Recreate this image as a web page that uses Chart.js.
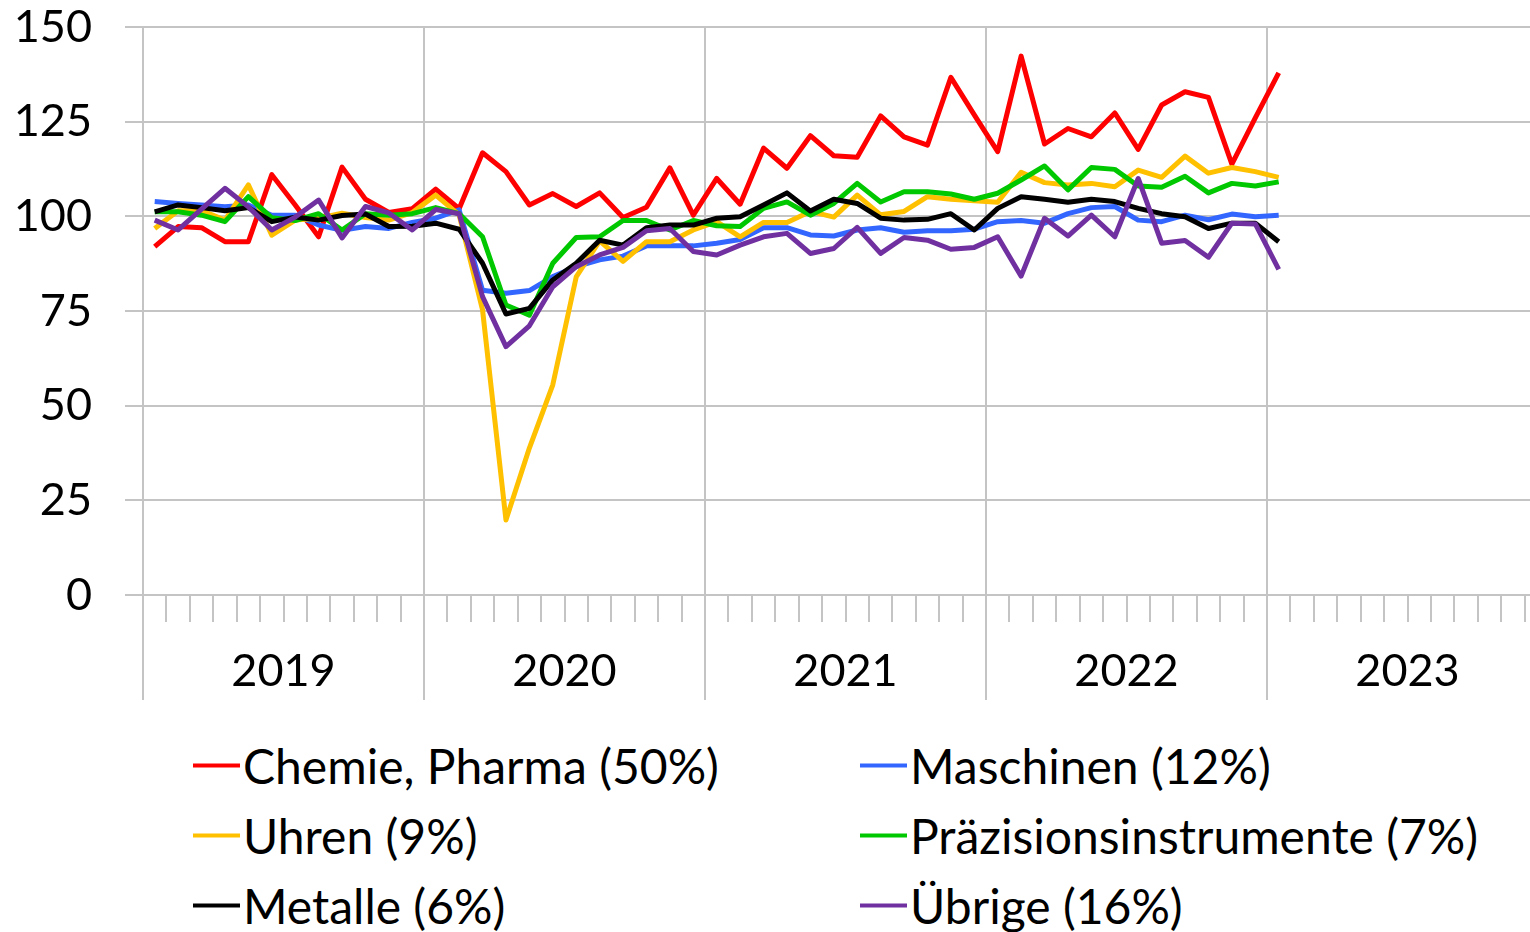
<!DOCTYPE html>
<html>
<head>
<meta charset="utf-8">
<script src="https://cdn.jsdelivr.net/npm/chart.js@4.4.0/dist/chart.umd.min.js"></script>
<style>
  html, body { margin: 0; padding: 0; background: #fff; }
  #wrap { position: relative; width: 1530px; height: 932px; overflow: hidden; }
  #box { position: absolute; left: 0; top: 0; width: 1548px; height: 720px; }
  .item { position: absolute; display: flex; align-items: center; transform: translateY(-50%);
          font-family: Lato, sans-serif; font-size: 48px; color: #000; white-space: nowrap; }
  .mark { display: inline-block; width: 47px; height: 4px; margin-right: 3px; }
</style>
</head>
<body>
<div id="wrap">
  <div id="box"><canvas id="chart"></canvas></div>
  <div id="legend"></div>
</div>
<script>
// Monthly index, Jan 2019 - Jan 2023
var years = ['2019', '2020', '2021', '2022', '2023']
var monthLabels = []
for (var y = 0; y < years.length; y++) {
  for (var m = 1; m <= 12; m++) monthLabels.push(years[y] + '-' + (m < 10 ? '0' + m : m))
}

var chemie = [92, 97.3, 97, 93.3, 93.3, 111, 103, 94.6, 113, 104.5, 101, 102,
  107.2, 102, 116.8, 111.8, 103, 106, 102.6, 106.2, 99.7, 102.4, 112.8, 100.3,
  110, 103.2, 118, 112.7, 121.3, 116, 115.6, 126.5, 121, 118.8, 136.7, 126.8,
  117.1, 142.3, 119.1, 123.2, 121, 127.3, 117.7, 129.4, 132.9, 131.4, 113.8, 126,
  137.9]
var maschinen = [103.9, 103.4, 103, 102.5, 103, 100.3, 100.3, 97.7, 96.3, 97.3, 96.8, 98.4,
  99.5, 101.7, 80.5, 79.7, 80.4, 84.1, 86.7, 88.5, 89.5, 92.2, 92.2, 92.2,
  92.9, 93.9, 97, 97, 95.1, 94.8, 96.4, 97, 95.8, 96.2, 96.2, 96.6,
  98.6, 98.9, 98.2, 100.7, 102.3, 102.6, 99, 98.6, 100.3, 99.1, 100.6, 99.9,
  100.3]
var uhren = [96.8, 101.5, 101.5, 99, 108.3, 95, 99, 99.5, 100.8, 99.7, 99, 101,
  105.6, 100.4, 75.3, 19.8, 38.8, 55.5, 84, 93.5, 88.1, 93.3, 93.3, 96.4,
  98.6, 94.6, 98.4, 98.4, 101.3, 99.8, 105.6, 100.4, 101.3, 105.2, 104.5, 104.1,
  103.7, 111.6, 108.9, 108.3, 108.7, 107.8, 112.2, 110.3, 115.9, 111.4, 112.9, 111.8,
  110.3]
var praezision = [101.2, 101.2, 100.3, 98.6, 105.2, 99.6, 98.9, 100.7, 96.4, 100.7, 100.3, 100.7,
  102.3, 100.7, 94.6, 76.6, 73.9, 87.6, 94.4, 94.6, 98.9, 98.9, 96.4, 98.9,
  97.5, 97.3, 102.1, 103.8, 100.3, 103.4, 108.7, 103.8, 106.5, 106.5, 105.9, 104.5,
  106.1, 109.6, 113.3, 107, 112.9, 112.4, 108, 107.7, 110.6, 106.2, 108.7, 108,
  109.1]
var metalle = [101.2, 103, 102.3, 101.5, 102.3, 98.6, 99.8, 99, 100.2, 100.6, 97.3, 97.4,
  98.2, 96.6, 87.6, 74.2, 75.7, 83.2, 87.6, 93.7, 92.4, 97, 97.7, 97.7,
  99.5, 99.9, 103, 106.2, 101.4, 104.5, 103.4, 99.5, 99, 99.2, 100.7, 96.4,
  102.1, 105.2, 104.5, 103.7, 104.5, 103.9, 102.1, 100.7, 99.9, 96.8, 98.2, 98.2,
  93.3]
var uebrige = [99, 96.4, 101.9, 107.4, 102.5, 96.4, 99.8, 104.3, 94.3, 102.6, 100.9, 96.4,
  101.8, 100.7, 78.8, 65.6, 71.1, 81.4, 86.7, 89.8, 91.8, 96.2, 96.8, 90.7,
  89.8, 92.4, 94.6, 95.5, 90.2, 91.5, 97.1, 90.2, 94.4, 93.7, 91.3, 91.8,
  94.6, 84.2, 99.5, 94.8, 100.3, 94.6, 110, 92.9, 93.6, 89.2, 98.2, 98,
  86]

var seriesNames = ['Chemie, Pharma (50%)', 'Maschinen (12%)', 'Uhren (9%)',
  'Präzisionsinstrumente (7%)', 'Metalle (6%)', 'Übrige (16%)']
var seriesData = [chemie, maschinen, uhren, praezision, metalle, uebrige]
var seriesColors = ['#FF0000', '#3366FF', '#FFC000', '#00C800', '#000000', '#7030A0']

var gray = '#c4c4c4'
var labelFont = { family: 'Lato', size: 45 }
var isYearLine = function (c) { return c.index % 12 === 0 ? gray : 'rgba(0,0,0,0)' }

var datasets = []
for (var s = 0; s < seriesData.length; s++) {
  datasets.push({
    label: seriesNames[s],
    data: seriesData[s],
    borderColor: seriesColors[s],
    backgroundColor: seriesColors[s],
    borderWidth: 5,
    pointRadius: 0,
    tension: 0,
    fill: false,
    borderJoinStyle: 'round',
    order: seriesData.length - 1 - s
  })
}

const ctx = document.getElementById('chart').getContext('2d')
const myChart = new Chart(ctx, {
  type: 'line',
  data: { labels: monthLabels, datasets: datasets },
  options: {
    responsive: true,
    maintainAspectRatio: false,
    animation: false,
    layout: { padding: { top: 27, right: 0, bottom: 20, left: 0 } },
    plugins: { legend: { display: false }, tooltip: { enabled: false } },
    scales: {
      // months axis: year separators, long ticks
      x: {
        type: 'category',
        labels: monthLabels,
        offset: true,
        ticks: { display: false },
        grid: { offset: true, lineWidth: 2, tickLength: 105, tickColor: isYearLine, color: isYearLine },
        border: { color: gray, width: 2 }
      },
      // short month ticks under the axis
      xm: {
        type: 'category',
        axis: 'x',
        labels: monthLabels,
        position: { y: 0 },
        offset: true,
        ticks: { display: false },
        grid: { offset: true, drawOnChartArea: false, lineWidth: 2, tickLength: 27, color: gray },
        border: { display: false }
      },
      // year labels
      xy: {
        type: 'category',
        axis: 'x',
        labels: years,
        position: { y: 0 },
        offset: true,
        ticks: { font: labelFont, color: '#000', padding: 49, maxRotation: 0, autoSkip: false },
        grid: { display: false, drawTicks: false },
        border: { display: false }
      },
      y: {
        min: 0,
        max: 150,
        ticks: { stepSize: 25, font: labelFont, color: '#000', padding: 33 },
        grid: { color: gray, lineWidth: 2, tickLength: 18 },
        border: { color: gray, width: 2 },
        afterFit: function (scale) {
          scale.width = 143
          scale.paddingTop = 0
          scale.paddingBottom = 0
        }
      }
    }
  }
})

// legend in two columns
var legendPos = [[193, 765], [860, 765], [193, 835], [860, 835], [193, 905], [860, 905]]
var lg = document.getElementById('legend')
for (var k = 0; k < seriesNames.length; k++) {
  var item = document.createElement('div')
  item.className = 'item'
  item.style.left = legendPos[k][0] + 'px'
  item.style.top = legendPos[k][1] + 'px'
  var mark = document.createElement('span')
  mark.className = 'mark'
  mark.style.background = seriesColors[k]
  var txt = document.createElement('span')
  txt.textContent = seriesNames[k]
  item.appendChild(mark)
  item.appendChild(txt)
  lg.appendChild(item)
}
</script>
</body>
</html>
